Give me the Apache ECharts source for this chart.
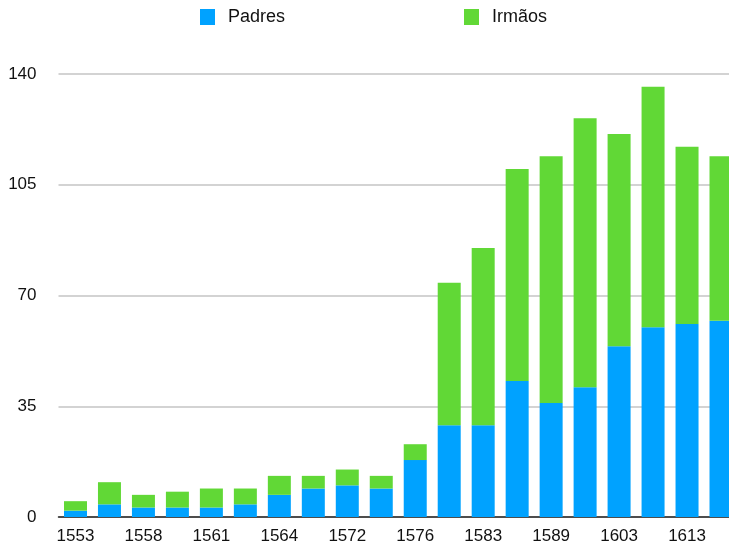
<!DOCTYPE html>
<html>
<head>
<meta charset="utf-8">
<script src="https://cdn.jsdelivr.net/npm/echarts@6/dist/echarts.min.js"></script>
<style>
  html, body { margin: 0; padding: 0; background: #fff; overflow: hidden; width: 729px; height: 546px; }
  /* the canvas is a little wider than the page so the last bar is cut at the edge */
  #chart { width: 738px; height: 546px; }
</style>
</head>
<body>
<div id="chart"></div>
<script>
// Jesuit personnel by catalogue year: priests (Padres) and brothers (Irmãos)
const years = ['1553','1556','1558','1559','1561','1563','1564','1568','1572','1574',
               '1576','1580','1583','1584','1589','1598','1603','1607','1613','1616'];
const padres = [2, 4, 3, 3, 3, 4, 7, 9, 10, 9, 18, 29, 29, 43, 36, 41, 54, 60, 61, 62];
const irmaos = [3, 7, 4, 5, 6, 5, 6, 4, 5, 4, 5, 45, 56, 67, 78, 85, 67, 76, 56, 52];
const yTicks = [0, 35, 70, 105, 140];

const FONT = '"Liberation Sans", Arial, Helvetica, sans-serif';
const BLUE = '#00A2FF';
const GREEN = '#61D836';

const chart = echarts.init(document.getElementById('chart'), null, { renderer: 'canvas' });

function legendAt(name, left) {
  return {
    data: [name],
    left: left,
    top: 8,
    padding: 0,
    itemWidth: 15,
    itemHeight: 16,
    icon: 'rect',
    selectedMode: false,
    textStyle: { fontFamily: FONT, fontSize: 18, color: '#111', padding: [0, 0, 0, 8] }
  };
}

chart.setOption({
  animation: false,
  legend: [legendAt('Padres', 200), legendAt('Irmãos', 464)],
  grid: { left: 58.5, top: 74, right: 0, bottom: 29, containLabel: false },
  xAxis: {
    type: 'category',
    data: years,
    axisTick: { show: false },
    axisLine: { lineStyle: { color: '#222', width: 1.5 } },
    axisLabel: {
      interval: 1,
      margin: 11,
      fontFamily: FONT,
      fontSize: 17,
      color: '#111'
    }
  },
  yAxis: {
    type: 'value',
    min: yTicks[0],
    max: yTicks[yTicks.length - 1],
    interval: yTicks[1] - yTicks[0],
    axisLine: { show: false },
    axisTick: { show: false },
    splitLine: { lineStyle: { color: '#c4c4c4', width: 1.5 } },
    axisLabel: {
      margin: 22,
      fontFamily: FONT,
      fontSize: 17,
      color: '#111'
    }
  },
  series: [
    {
      name: 'Padres',
      type: 'bar',
      stack: 'total',
      barWidth: 23,
      itemStyle: { color: BLUE },
      data: padres
    },
    {
      name: 'Irmãos',
      type: 'bar',
      stack: 'total',
      barWidth: 23,
      itemStyle: { color: GREEN },
      data: irmaos
    }
  ]
});
</script>
</body>
</html>
